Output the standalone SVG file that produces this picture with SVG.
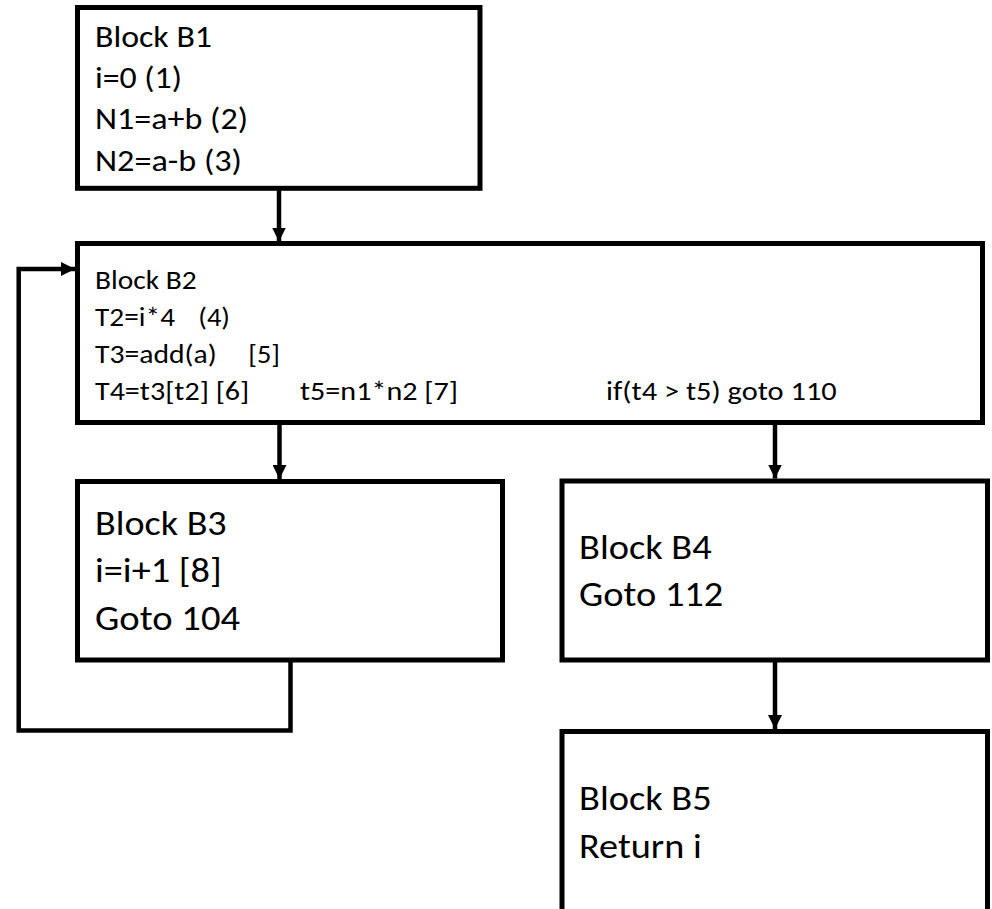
<svg xmlns="http://www.w3.org/2000/svg" width="992" height="909" viewBox="0 0 992 909">
<style>
.box{fill:#fff;stroke:#000;stroke-width:5}
.t{font-family:Carlito,Lato,"Liberation Sans",sans-serif;fill:#000}
.s1{font-size:30.5px}
.s2{font-size:26.3px}
.s3{font-size:34px}
.ln{fill:none;stroke:#000;stroke-width:4.5}
</style>
<defs>
<marker id="ah" viewBox="0 0 14 14" refX="14" refY="7" markerWidth="14" markerHeight="14" markerUnits="userSpaceOnUse" orient="auto">
<path d="M0,0 L14,7 L0,14 Z" fill="#000"/>
</marker>
</defs>
<rect width="992" height="909" fill="#fff"/>
<g id="connectors">
<line class="ln" x1="279" y1="190" x2="279" y2="241.5" marker-end="url(#ah)"/>
<line class="ln" x1="279.5" y1="425" x2="279.5" y2="479" marker-end="url(#ah)"/>
<line class="ln" x1="775" y1="425" x2="775" y2="478.5" marker-end="url(#ah)"/>
<line class="ln" x1="775" y1="662" x2="775" y2="729" marker-end="url(#ah)"/>
<polyline class="ln" points="290.5,662 290.5,730.5 18.7,730.5 18.7,269 75,269" marker-end="url(#ah)"/>
</g>
<g id="B1">
<rect class="box" x="77.5" y="7.5" width="402.5" height="180.8"/>
<text class="t s1" x="95" y="46.7" textLength="117" lengthAdjust="spacingAndGlyphs">Block B1</text>
<text class="t s1" x="95" y="88" textLength="87" lengthAdjust="spacingAndGlyphs">i=0 (1)</text>
<text class="t s1" x="95" y="129.3" textLength="153" lengthAdjust="spacingAndGlyphs">N1=a+b (2)</text>
<text class="t s1" x="95" y="170.7" textLength="147" lengthAdjust="spacingAndGlyphs">N2=a-b (3)</text>
</g>
<g id="B2">
<rect class="box" x="77.5" y="243.5" width="905" height="179"/>
<text class="t s2" x="95" y="289.3" textLength="101.7" lengthAdjust="spacingAndGlyphs">Block B2</text>
<text class="t s2" x="95" y="326" textLength="80" lengthAdjust="spacingAndGlyphs">T2=i*4</text>
<text class="t s2" x="198.3" y="326" textLength="31.7" lengthAdjust="spacingAndGlyphs">(4)</text>
<text class="t s2" x="95" y="362.7" textLength="121.7" lengthAdjust="spacingAndGlyphs">T3=add(a)</text>
<text class="t s2" x="248.3" y="362.7" textLength="31.7" lengthAdjust="spacingAndGlyphs">[5]</text>
<text class="t s2" x="95" y="400" textLength="154.3" lengthAdjust="spacingAndGlyphs">T4=t3[t2] [6]</text>
<text class="t s2" x="300" y="400" textLength="158" lengthAdjust="spacingAndGlyphs">t5=n1*n2 [7]</text>
<text class="t s2" x="606" y="400" textLength="230.7" lengthAdjust="spacingAndGlyphs">if(t4 &gt; t5) goto 110</text>
</g>
<g id="B3">
<rect class="box" x="77.5" y="481.5" width="425" height="178.5"/>
<text class="t s3" x="95" y="535" textLength="131.7" lengthAdjust="spacingAndGlyphs">Block B3</text>
<text class="t s3" x="95" y="581.7" textLength="126.7" lengthAdjust="spacingAndGlyphs">i=i+1 [8]</text>
<text class="t s3" x="95" y="629.5" textLength="145" lengthAdjust="spacingAndGlyphs">Goto 104</text>
</g>
<g id="B4">
<rect class="box" x="562" y="481" width="425.5" height="179"/>
<text class="t s3" x="579" y="559.3" textLength="132.7" lengthAdjust="spacingAndGlyphs">Block B4</text>
<text class="t s3" x="579" y="606" textLength="144.3" lengthAdjust="spacingAndGlyphs">Goto 112</text>
</g>
<g id="B5">
<rect class="box" x="562" y="731.5" width="425.5" height="240"/>
<text class="t s3" x="579" y="810" textLength="132.7" lengthAdjust="spacingAndGlyphs">Block B5</text>
<text class="t s3" x="579" y="858.3" textLength="122.7" lengthAdjust="spacingAndGlyphs">Return i</text>
</g>
</svg>
